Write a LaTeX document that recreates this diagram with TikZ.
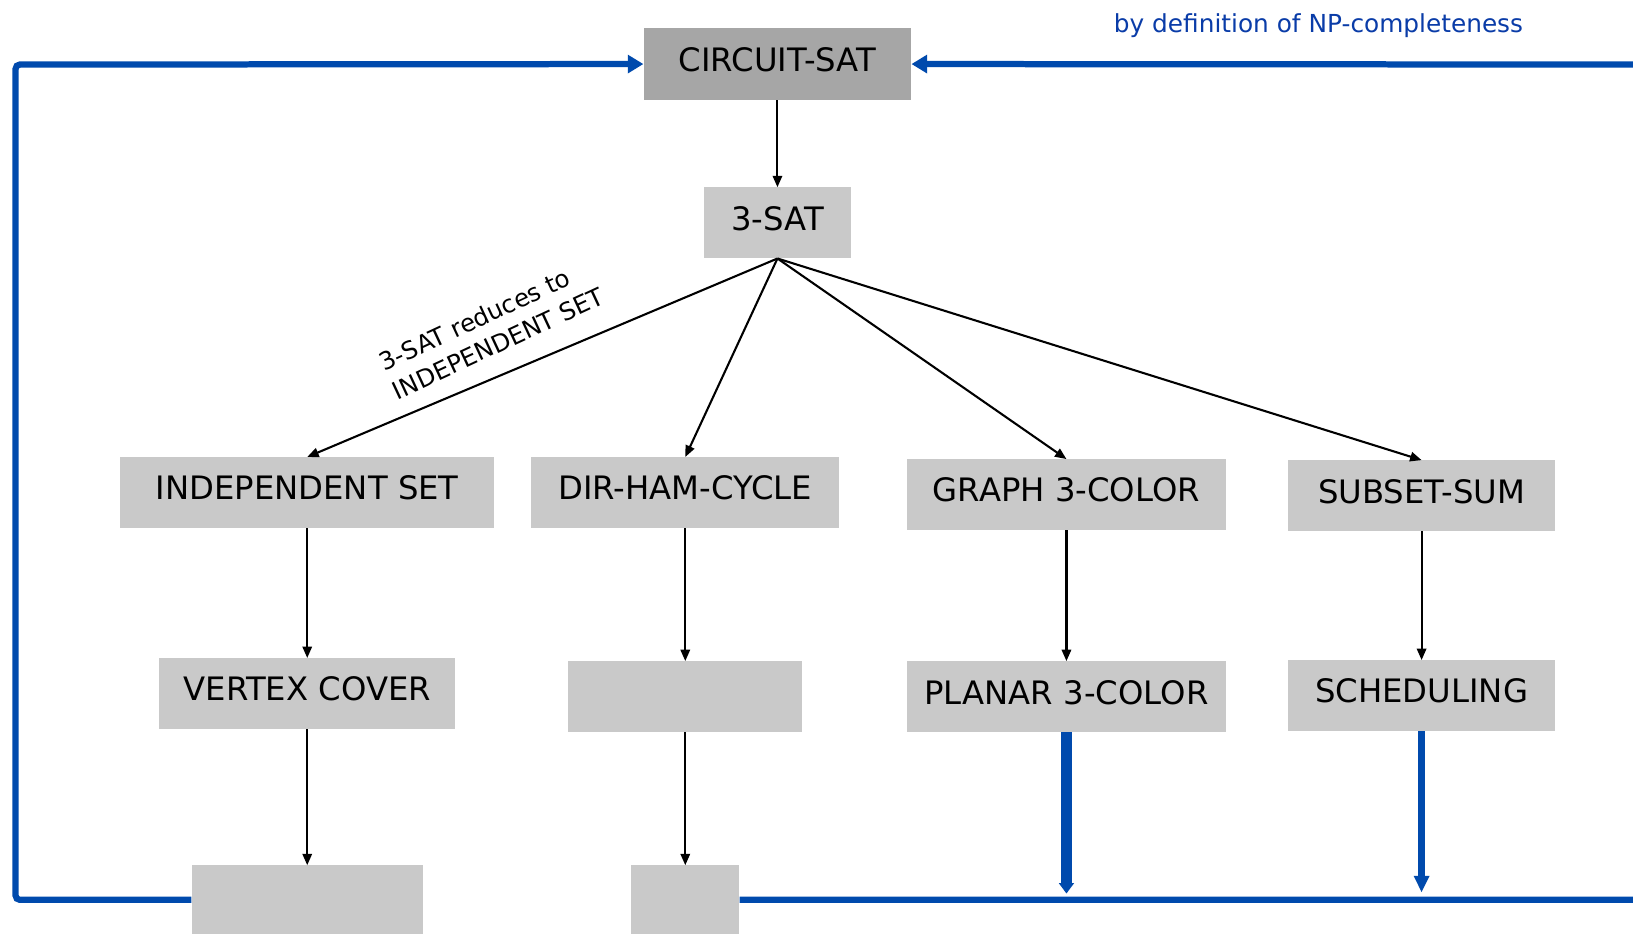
\documentclass[tikz,border=0pt]{standalone}
\usepackage{fontspec}
\setmainfont{DejaVu Sans}
\usetikzlibrary{arrows.meta}
\definecolor{boxgray}{HTML}{C9C9C9}
\definecolor{topgray}{HTML}{A6A6A6}
\definecolor{npblue}{HTML}{004AAD}
\definecolor{notecol}{HTML}{0A3CA8}
\begin{document}
\begin{tikzpicture}[x=1pt,y=-1pt,
  prob/.style={fill=boxgray, inner sep=0pt, minimum height=68pt,
    text height=23pt, text depth=9pt, font=\fontsize{31}{36}\selectfont},
  reduce/.style={draw=black, line width=2pt, -{Triangle[length=11pt,width=9pt]}},
  cert/.style={draw=npblue, line width=6pt},
]
\clip (0,0) rectangle (1568,896);
\fill[white] (0,0) rectangle (1568,896);

% problem boxes
\node[prob, fill=topgray, minimum width=257pt, minimum height=69pt] (cs) at (746.5,61.5) {CIRCUIT-SAT};
\node[prob, minimum width=141pt] (sat) at (746.5,214) {3-SAT};
\node[prob, minimum width=359pt] (is) at (295,473) {INDEPENDENT SET};
\node[prob, minimum width=296pt] (dhc) at (658,473) {DIR-HAM-CYCLE};
\node[prob, minimum width=307pt] (gc) at (1024,475) {GRAPH 3-COLOR};
\node[prob, minimum width=256pt] (ss) at (1365,476) {SUBSET-SUM};
\node[prob, minimum width=284pt] (vc) at (295,666) {VERTEX COVER};
\node[prob, minimum width=225pt] (b1) at (658,669) {};
\node[prob, minimum width=306pt] (pc) at (1024,669) {PLANAR 3-COLOR};
\node[prob, minimum width=256pt] (sch) at (1365,668) {SCHEDULING};
\node[prob, minimum width=222pt, minimum height=66pt] (b2) at (295,864) {};
\node[prob, minimum width=104pt, minimum height=66pt] (b3) at (658,864) {};

% captions
\node[text=notecol, font=\fontsize{23.8}{28}\selectfont, anchor=base] (note) at (1266,31) {by definition of NP-completeness};
\node[rotate=25, align=left, font=\fontsize{23.5}{30}\selectfont] (lbl) at (472,316) {3-SAT reduces to\\INDEPENDENT SET};

% reductions
\draw[reduce] (cs) -- (sat);
\draw[reduce] (sat.south) -- (is.north);
\draw[reduce] (sat.south) -- (dhc.north);
\draw[reduce] (sat.south) -- (gc.north);
\draw[reduce] (sat.south) -- (ss.north);
\draw[reduce] (is) -- (vc);
\draw[reduce] (dhc) -- (b1);
\draw[reduce] (gc) -- (pc);
\draw[reduce] (ss) -- (sch);
\draw[reduce] (vc) -- (b2);
\draw[reduce] (b1) -- (b3);

% return to CIRCUIT-SAT
\coordinate (ll) at (15,864);
\coordinate (ul) at (15,62);
\coordinate (lr) at (1600,864);
\coordinate (ur) at (1600,62);
\coordinate (pend) at (1024,858);
\coordinate (send) at (1365,857);
\draw[cert, rounded corners=4pt, -{Triangle[length=15pt,width=17pt]}] (b2.west) -- (ll) -- (ul) -- (cs.west);
\draw[cert, -{Triangle[length=15pt,width=17pt]}] (b3.east) -- (lr) -- (ur) -- (cs.east);
\draw[cert, line width=10pt, -{Triangle[length=10pt,width=14pt]}] (pc.south) -- (pend);
\draw[cert, -{Triangle[length=16pt,width=14pt]}] (sch.south) -- (send);
\end{tikzpicture}
\end{document}
